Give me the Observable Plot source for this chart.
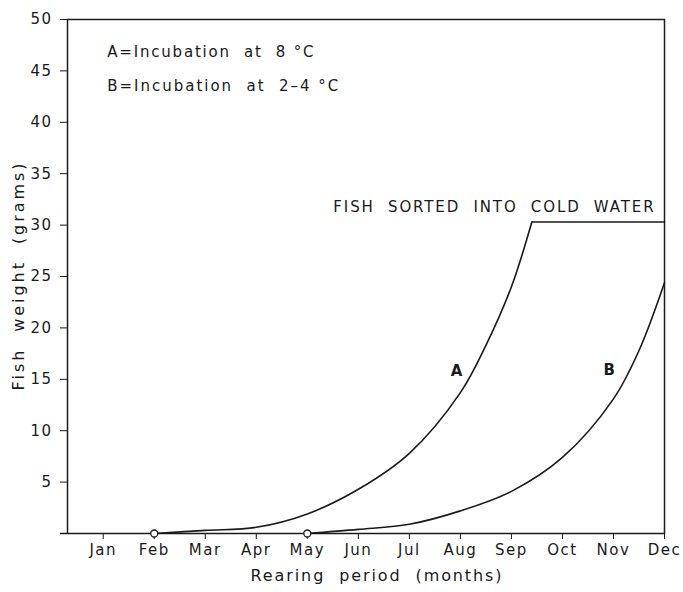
<!DOCTYPE html>
<html><head><meta charset="utf-8">
<script src="https://cdn.jsdelivr.net/npm/d3@7"></script>
<script src="https://cdn.jsdelivr.net/npm/@observablehq/plot@0.6"></script>
<style>
html,body{margin:0;padding:0;background:#fff;}
svg text{letter-spacing:1.5px;}
</style></head><body><div id="chart"></div>
<script>
// ---- data ----
const monthLabels = ["Jan","Feb","Mar","Apr","May","Jun","Jul","Aug","Sep","Oct","Nov","Dec"];
const monthTicks = [1,2,3,4,5,6,7,8,9,10,11,12];
const weightTicks = [5,10,15,20,25,30,35,40,45,50];

// Curve A: incubation at 8 °C (growth phase)
const monthsA = [2, 3, 4, 5, 6, 7, 8, 8.5, 9, 9.4];
const weightA = [0, 0.3, 0.6, 1.9, 4.3, 7.8, 13.7, 18.3, 24.0, 30.3];
// Curve A after sorting into cold water (plateau)
const monthsAPlateau = [9.4, 12];
const weightAPlateau = [30.3, 30.3];

// Curve B: incubation at 2–4 °C
const monthsB = [5, 6, 7, 8, 9, 10, 11, 11.5, 12];
const weightB = [0, 0.4, 0.9, 2.2, 4.1, 7.4, 13.1, 17.8, 24.4];

// Annotation texts and their data anchors
const legendTexts = ["A=Incubation  at  8 °C", "B=Incubation  at  2–4 °C"];
const legendMonths = [1.08, 1.08];
const legendWeights = [46.8, 43.5];
const sortedText = "FISH  SORTED  INTO  COLD  WATER";
const sortedMonth = 5.51, sortedWeight = 31.7;
const curveLabels = ["A", "B"];
const curveLabelMonths = [7.94, 10.93];
const curveLabelWeights = [15.8, 15.9];
const xTitle = "Rearing  period  (months)";
const yTitle = "Fish  weight  (grams)";

// ---- tables ----
const dataA = monthsA.map((m, i) => ({month: m, weight: weightA[i]}));
const dataAPlateau = monthsAPlateau.map((m, i) => ({month: m, weight: weightAPlateau[i]}));
const dataB = monthsB.map((m, i) => ({month: m, weight: weightB[i]}));
const starts = [dataA[0], dataB[0]];
const legend = legendTexts.map((t, i) => ({text: t, month: legendMonths[i], weight: legendWeights[i]}));
const cLabels = curveLabels.map((t, i) => ({text: t, month: curveLabelMonths[i], weight: curveLabelWeights[i]}));

const ink = "#1a1a1a";
const chart = Plot.plot({
  width: 683,
  height: 592,
  marginLeft: 67,
  marginRight: 19,
  marginTop: 19,
  marginBottom: 59,
  style: {fontFamily: "DejaVu Sans", fontSize: "15px", color: ink, background: "#fff"},
  x: {domain: [0.3, 12], ticks: monthTicks, tickFormat: m => monthLabels[m - 1], tickSize: 6, tickPadding: 5, label: null},
  y: {domain: [0, 50], ticks: weightTicks, tickSize: 7, tickPadding: 8, label: null},
  marks: [
    Plot.frame({stroke: ink, strokeWidth: 1.5}),
    Plot.ruleY([0], {x1: 0.16, x2: 0.3, stroke: ink, strokeWidth: 1.5}),
    Plot.line(dataA, {x: "month", y: "weight", curve: "catmull-rom", stroke: ink, strokeWidth: 1.6}),
    Plot.line(dataAPlateau, {x: "month", y: "weight", stroke: ink, strokeWidth: 1.6}),
    Plot.line(dataB, {x: "month", y: "weight", curve: "catmull-rom", stroke: ink, strokeWidth: 1.6}),
    Plot.dot(starts, {x: "month", y: "weight", r: 3.5, fill: "white", stroke: ink, strokeWidth: 1.3}),
    Plot.text(legend, {x: "month", y: "weight", text: "text", textAnchor: "start", fontSize: 15, fill: ink}),
    Plot.text([sortedText], {x: sortedMonth, y: sortedWeight, text: d => d, textAnchor: "start", fontSize: 15, fill: ink}),
    Plot.text(cLabels, {x: "month", y: "weight", text: "text", fontSize: 15, fontWeight: "bold", fill: ink}),
    Plot.text([xTitle], {frameAnchor: "bottom", textAnchor: "middle", dx: 11, dy: 47, text: d => d, fontSize: 16, fill: ink}),
    Plot.text([yTitle], {frameAnchor: "left", textAnchor: "middle", lineAnchor: "middle", dx: -49, dy: -1, rotate: -90, text: d => d, fontSize: 16, fill: ink})
  ]
});
document.getElementById("chart").appendChild(chart);

// widen letter spacing so the lettering spans the widths of the original stencil text
const widths = new Map([
  [legendTexts[0], 208],
  [legendTexts[1], 233],
  [sortedText, 322],
  [xTitle, 253],
  [yTitle, 230]
]);
chart.querySelectorAll("text").forEach(t => {
  const w = widths.get(t.textContent);
  if (w) {
    t.style.letterSpacing = "0px";
    const natural = t.getComputedTextLength();
    const ls = (w - natural) / t.textContent.length;
    t.style.letterSpacing = ls.toFixed(2) + "px";
  }
});
</script>
</body></html>
